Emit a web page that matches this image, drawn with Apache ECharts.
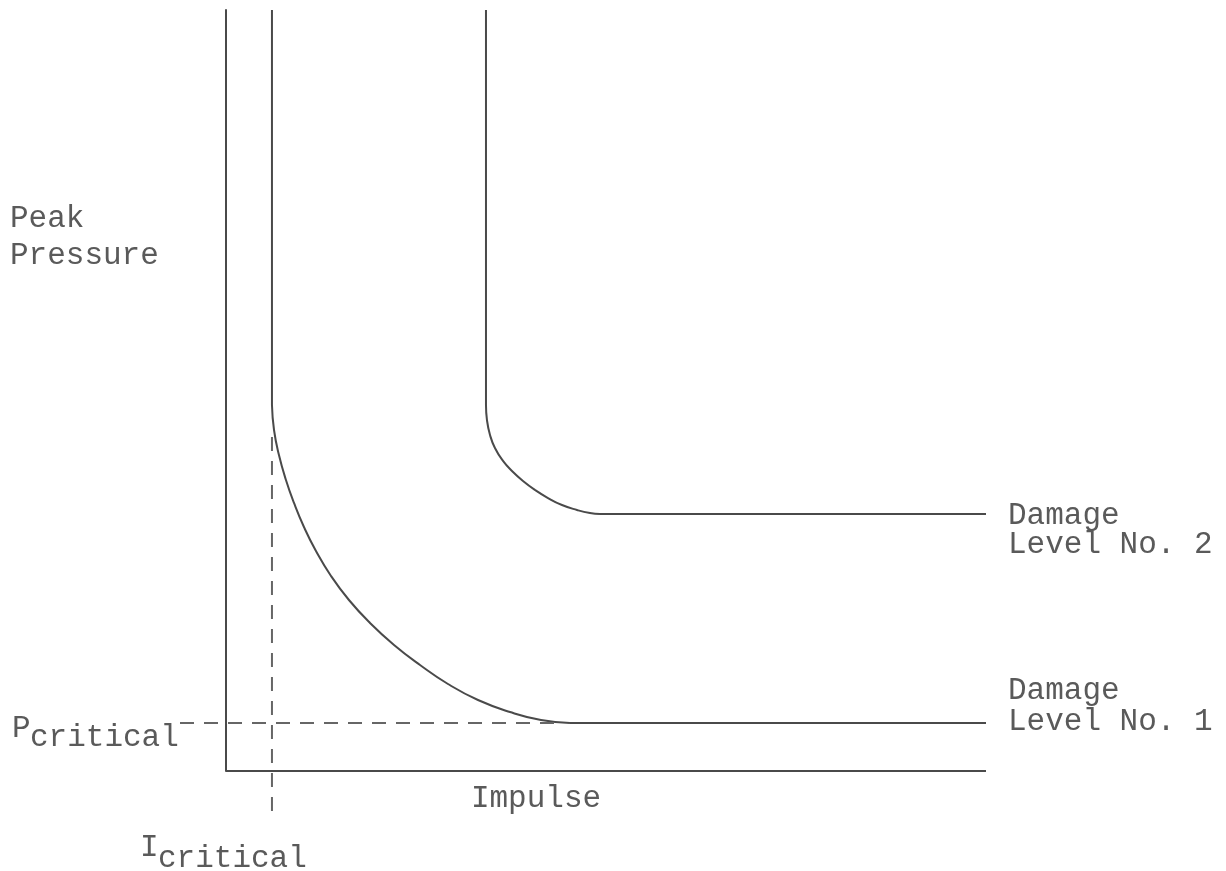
<!DOCTYPE html>
<html>
<head>
<meta charset="utf-8">
<script src="https://cdn.jsdelivr.net/npm/echarts@6/dist/echarts.min.js"></script>
<style>
html,body{margin:0;padding:0;background:#fff;}
#chart{width:1226px;height:871px;}
</style>
</head>
<body>
<div id="chart"></div>
<script>
// Axis frame (impulse, peak pressure) in arbitrary units
const impulseAxis = [[0, 0], [100, 0]];
// Damage Level No. 1
const level1Vertical = [[6.05, 100], [6.05, 48.09]];
const level1Bend = [[6.05, 48.09], [6.32, 44.81], [6.97, 41.52], [7.89, 38.24], [8.95, 35.22], [10.26, 32.06], [11.84, 28.91], [13.82, 25.62], [16.18, 22.47], [18.95, 19.45], [22.11, 16.56], [25.53, 13.93], [29.21, 11.43], [33.16, 9.33], [37.37, 7.75], [41.45, 6.70], [45.26, 6.31]];
const level1Flat = [[45.26, 6.31], [100, 6.31]];
// Damage Level No. 2
const level2Vertical = [[34.21, 100], [34.21, 48.09]];
const level2Bend = [[34.21, 48.09], [34.34, 46.12], [34.74, 44.15], [35.39, 42.44], [36.45, 40.74], [37.63, 39.42], [39.08, 38.11], [40.66, 36.93], [42.37, 35.87], [44.21, 34.95], [46.18, 34.30], [47.89, 33.90], [49.21, 33.77]];
const level2Flat = [[49.21, 33.77], [100, 33.77]];
// critical reference (dashed)
const pCriticalLine = [[-6.05, 6.31], [43.3, 6.31]];
const iCriticalLine = [[6.05, 43.89], [6.05, -6.44]];

const FONT = 'Liberation Mono';
const TEXT = '#5a5a5a';
const LINE = '#4a4a4a';

function solid(name, data, smooth) {
  return { type: 'line', name, data, smooth: smooth || false, symbol: 'none', silent: true, clip: false,
    lineStyle: { color: LINE, width: 2 }, animation: false };
}
function dashed(name, data) {
  return { type: 'line', name, data, symbol: 'none', silent: true, clip: false,
    lineStyle: { color: '#666', width: 2, type: [14, 10] }, animation: false };
}
function txt(text, x, y, extra) {
  return { type: 'text', x, y, silent: true,
    style: Object.assign({ text, fill: TEXT, fontFamily: FONT, fontSize: 31, verticalAlign: 'middle', align: 'left' }, extra || {}) };
}

const chart = echarts.init(document.getElementById('chart'));
chart.setOption({
  backgroundColor: '#fff',
  animation: false,
  grid: { left: 180, top: 10, width: 806, height: 761 },
  xAxis: { type: 'value', min: -6.05, max: 100, axisLine: { show: false },
    axisTick: { show: false }, axisLabel: { show: false }, splitLine: { show: false } },
  yAxis: { type: 'value', min: 0, max: 100, axisLine: { show: true, onZero: true, lineStyle: { color: LINE, width: 2 } },
    axisTick: { show: false }, axisLabel: { show: false }, splitLine: { show: false } },
  series: [
    solid('axis', impulseAxis),
    solid('L1v', level1Vertical), solid('L1b', level1Bend, 0.5), solid('L1f', level1Flat),
    solid('L2v', level2Vertical), solid('L2b', level2Bend, 0.5), solid('L2f', level2Flat),
    dashed('Pcrit', pCriticalLine), dashed('Icrit', iCriticalLine)
  ],
  graphic: [
    txt('Peak', 10, 219),
    txt('Pressure', 10, 256),
    txt('Impulse', 536, 799, { align: 'center' }),
    txt('P', 12, 729),
    txt('critical', 30, 738),
    txt('I', 140, 848),
    txt('critical', 158, 859),
    txt('Damage\nLevel No. 2', 1008, 530, { lineHeight: 29 }),
    txt('Damage\nLevel No. 1', 1008, 706, { lineHeight: 31 })
  ]
});
</script>
</body>
</html>
